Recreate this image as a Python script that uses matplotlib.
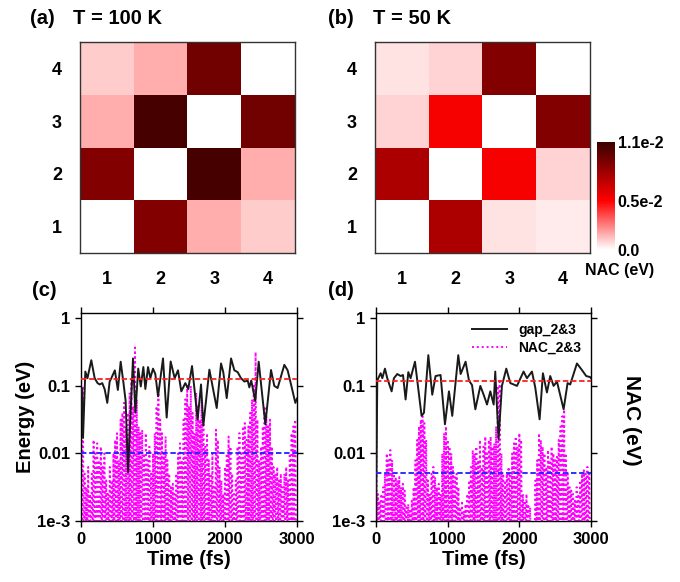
import matplotlib
matplotlib.use("Agg")
import matplotlib.pyplot as plt
import numpy as np
from matplotlib.colors import LinearSegmentedColormap

plt.rcParams['font.family'] = ['Liberation Sans', 'DejaVu Sans']
plt.rcParams['font.weight'] = 'bold'

# ---- data ----
states = [1, 2, 3, 4]
# NAC matrices (eV), row = state on y axis (1 at bottom), column = state on x axis
nac_100K = [[0.0, 0.0088, 0.0016, 0.0010],
            [0.0088, 0.0, 0.0106, 0.0016],
            [0.0016, 0.0106, 0.0, 0.0093],
            [0.0010, 0.0016, 0.0093, 0.0]]
nac_50K = [[0.0, 0.0075, 0.0006, 0.0004],
           [0.0075, 0.0, 0.0052, 0.0009],
           [0.0009, 0.0052, 0.0, 0.0088],
           [0.0006, 0.0009, 0.0088, 0.0]]
cbar_ticks = [0.0, 0.005, 0.011]
cbar_labels = ['0.0', '0.5e-2', '1.1e-2']

# gap_2&3 (eV)
gap_c_t = [0, 14, 28, 60, 90, 143, 190, 230, 260, 295, 329, 365, 398, 421, 470,
           512, 551, 590, 620, 653, 722, 755, 795, 830, 866, 894, 931, 963, 1000, 1032,
           1070, 1139, 1190, 1245, 1301, 1347, 1393, 1449, 1490, 1542, 1620, 1667, 1699, 1783, 1885,
           1945, 1976, 2024, 2084, 2130, 2176, 2222, 2269, 2315, 2338, 2365, 2420, 2468, 2560, 2639,
           2685, 2731, 2824, 2870, 2917, 2977, 3000]
gap_c = [0.08, 0.09, 0.017, 0.163, 0.13, 0.24, 0.13, 0.11, 0.105, 0.11, 0.089, 0.056, 0.116, 0.13, 0.17,
         0.087, 0.228, 0.11, 0.06, 0.0053, 0.255, 0.04, 0.18, 0.098, 0.19, 0.09, 0.19, 0.13, 0.18, 0.15,
         0.07, 0.255, 0.034, 0.23, 0.13, 0.17, 0.083, 0.11, 0.09, 0.197, 0.032, 0.105, 0.026, 0.174, 0.047,
         0.215, 0.16, 0.066, 0.255, 0.17, 0.16, 0.13, 0.116, 0.12, 0.095, 0.12, 0.06, 0.228, 0.027, 0.172,
         0.1, 0.093, 0.205, 0.17, 0.105, 0.056, 0.065]
gap_d_t = [0, 18, 32, 65, 88, 125, 157, 218, 250, 297, 344, 377, 413, 451, 483,
           544, 576, 636, 669, 730, 785, 831, 901, 962, 1018, 1064, 1148, 1181, 1250, 1297,
           1340, 1386, 1456, 1502, 1549, 1595, 1642, 1664, 1710, 1757, 1818, 1874, 1920, 1967, 2059,
           2106, 2176, 2222, 2283, 2329, 2385, 2431, 2478, 2525, 2618, 2673, 2710, 2804, 2873, 2933,
           2989, 3000]
gap_d = [0.0011, 0.12, 0.13, 0.154, 0.13, 0.18, 0.13, 0.083, 0.13, 0.15, 0.14, 0.145, 0.063, 0.16, 0.13,
         0.228, 0.12, 0.036, 0.04, 0.285, 0.074, 0.14, 0.145, 0.027, 0.083, 0.036, 0.285, 0.15, 0.228, 0.12,
         0.103, 0.045, 0.10, 0.074, 0.053, 0.083, 0.053, 0.163, 0.0163, 0.1, 0.18, 0.11, 0.105, 0.1, 0.163,
         0.13, 0.163, 0.095, 0.032, 0.154, 0.08, 0.14, 0.1, 0.116, 0.045, 0.11, 0.105, 0.215, 0.172, 0.14,
         0.135, 0.13]

# NAC_2&3 local maxima, log10(eV), one every 25 fs from 0 to 2975 fs
nac_t = list(range(0, 3000, 25))
nac_c_log = [-0.5, -1.0, -2.3, -2.5, -2.2, -2.6, -2.3, -1.8, -2.0, -1.85,
             -2.1, -1.9, -2.2, -2.0, -2.4, -2.6, -2.2, -2.4, -2.0, -1.8,
             -1.7, -2.1, -1.5, -1.4, -1.25, -1.6, -1.4, -1.1, -0.9, -1.3,
             -0.4, -1.2, -1.6, -1.7, -1.65, -2.0, -1.7, -2.1, -1.9, -2.3,
             -2.0, -1.7, -1.3, -1.1, -1.5, -1.7, -2.0, -1.75, -2.1, -2.3,
             -2.5, -2.45, -2.6, -2.3, -2.0, -1.85, -2.1, -1.5, -1.2, -1.0,
             -1.3, -1.0, -1.4, -1.7, -1.1, -1.3, -1.5, -1.2, -1.4, -1.9,
             -1.7, -2.1, -2.3, -2.0, -2.5, -1.65, -1.8, -2.2, -2.4, -2.6,
             -2.2, -2.0, -1.75, -1.9, -2.3, -2.6, -2.4, -1.9, -1.7, -2.0,
             -1.6, -1.55, -1.8, -1.6, -1.4, -1.2, -1.0, -0.5, -1.5, -2.1,
             -1.9, -1.6, -1.3, -1.45, -1.6, -1.5, -1.9, -2.2, -2.3, -2.2,
             -2.4, -2.3, -2.5, -2.3, -2.2, -2.4, -2.0, -1.7, -1.6, -1.5]
nac_d_log = [-0.45, -2.6, -2.7, -2.6, -2.5, -2.3, -2.0, -2.1, -1.95, -2.1,
             -2.3, -2.35, -2.4, -2.35, -2.5, -2.45, -2.55, -2.8, -2.75, -2.85,
             -2.7, -2.5, -2.1, -1.8, -1.6, -1.5, -1.45, -1.55, -1.8, -2.4,
             -2.6, -2.3, -2.2, -2.35, -2.5, -2.45, -2.6, -2.0, -1.7, -1.6,
             -1.8, -1.9, -2.0, -2.2, -2.35, -2.3, -2.5, -2.8, -2.7, -2.85,
             -2.75, -2.6, -2.4, -2.2, -1.95, -2.0, -1.9, -2.1, -1.8, -2.2,
             -1.9, -1.75, -2.0, -1.8, -1.75, -1.9, -1.85, -1.6, -1.0, -0.9,
             -2.0, -2.3, -2.4, -2.3, -2.2, -2.3, -2.0, -1.85, -1.75, -1.9,
             -1.7, -1.8, -2.6, -2.7, -2.6, -2.75, -2.8, -3.2, -3.2, -2.4,
             -2.1, -1.7, -1.8, -1.9, -2.0, -2.2, -1.95, -2.1, -1.9, -2.0,
             -2.1, -2.05, -1.8, -1.6, -1.45, -1.35, -2.0, -2.3, -2.5, -2.55,
             -2.6, -2.7, -2.5, -2.6, -2.4, -2.3, -2.25, -2.3, -2.2, -2.3]
nac_floor = 4e-4
mean_gap = {'c': 0.125, 'd': 0.117}
mean_nac = {'c': 0.010, 'd': 0.0051}

# ---- figure ----
fig = plt.figure(figsize=(6.8, 5.82), dpi=100)
W, H = 680, 582


def box(l, t, r, b):
    return [l / W, 1 - b / H, (r - l) / W, (b - t) / H]


cmap = LinearSegmentedColormap.from_list(
    'nac', [(0, 'white'), (0.005 / 0.011, '#ff0000'), (1, '#3a0000')])

ax_a = fig.add_axes(box(80, 42, 295, 253))
ax_b = fig.add_axes(box(375, 42, 590, 253))
for ax, m in [(ax_a, nac_100K), (ax_b, nac_50K)]:
    im = ax.imshow(np.array(m), cmap=cmap, vmin=0, vmax=0.011, origin='lower',
                   extent=(0.5, 4.5, 0.5, 4.5), aspect='auto')
    ax.set_xticks(states)
    ax.set_yticks(states)
    ax.tick_params(axis='y', length=0, labelsize=13, pad=13)
    ax.tick_params(axis='x', length=0, labelsize=13, pad=13)
    for s in ax.spines.values():
        s.set_color('#333333')
        s.set_linewidth(1.0)

fig.text(30 / W, 1 - 24 / H, '(a)', fontsize=14.5, fontweight='bold')
fig.text(73 / W, 1 - 24 / H, 'T = 100 K', fontsize=14.5, fontweight='bold')
fig.text(328 / W, 1 - 24 / H, '(b)', fontsize=14.5, fontweight='bold')
fig.text(373 / W, 1 - 24 / H, 'T = 50 K', fontsize=14.5, fontweight='bold')

cax = fig.add_axes(box(597, 142, 615, 250))
cb = fig.colorbar(im, cax=cax, ticks=cbar_ticks)
cb.set_ticklabels(cbar_labels)
cb.outline.set_visible(False)
cax.tick_params(length=0, labelsize=11.5, pad=2)
fig.text(620 / W, 1 - 275 / H, 'NAC (eV)', fontsize=11.5, fontweight='bold', ha='center')

ax_c = fig.add_axes(box(81, 313, 297, 521))
ax_d = fig.add_axes(box(376, 313, 591, 521))
panels = [(ax_c, gap_c_t, gap_c, nac_c_log, 'c'), (ax_d, gap_d_t, gap_d, nac_d_log, 'd')]
for ax, gt, gv, nl, key in panels:
    zx = np.column_stack([nac_t, np.array(nac_t) + 12.5]).ravel()
    zy = np.column_stack([10 ** np.array(nl), np.full(len(nl), nac_floor)]).ravel()
    ln_nac, = ax.plot(zx, zy, color='#ff00ff', lw=1.4, linestyle=(0, (1, 1.5)),
                      label='NAC_2&3', zorder=2)
    ln_gap, = ax.plot(gt, gv, color='#1a1a1a', lw=1.4, label='gap_2&3', zorder=3)
    ax.axhline(mean_gap[key], color='#ff2020', lw=1.3, linestyle=(0, (3, 1.5)), zorder=4)
    ax.axhline(mean_nac[key], color='#2020ff', lw=1.3, linestyle=(0, (3, 1.5)), zorder=4)
    ax.set_yscale('log')
    ax.set_ylim(1e-3, 1.2)
    ax.set_xlim(0, 3000)
    ax.set_xticks([0, 1000, 2000, 3000])
    ax.set_yticks([1e-3, 1e-2, 1e-1, 1])
    ax.set_yticklabels(['1e-3', '0.01', '0.1', '1'])
    ax.yaxis.set_minor_locator(matplotlib.ticker.NullLocator())
    ax.tick_params(direction='out', length=4, width=1, labelsize=12, top=True, right=True,
                   labeltop=False, labelright=False)
    ax.tick_params(axis='x', pad=4)
    ax.set_xlabel('Time (fs)', fontsize=14.5, fontweight='bold', labelpad=2)
    for s in ax.spines.values():
        s.set_linewidth(1.0)

ax_c.set_ylabel('Energy (eV)', fontsize=14.5, fontweight='bold', labelpad=2)
ax_d.legend(handles=[ln_gap, ln_nac], loc='upper right', frameon=False, fontsize=10,
            handlelength=2.5, borderaxespad=0.3, labelspacing=0.3)
fig.text(632 / W, 1 - 420 / H, 'NAC (eV)', fontsize=15, fontweight='bold',
         rotation=270, ha='center', va='center')
fig.text(32 / W, 1 - 296 / H, '(c)', fontsize=14.5, fontweight='bold')
fig.text(328 / W, 1 - 296 / H, '(d)', fontsize=14.5, fontweight='bold')

fig.savefig('out.png', dpi=100)
